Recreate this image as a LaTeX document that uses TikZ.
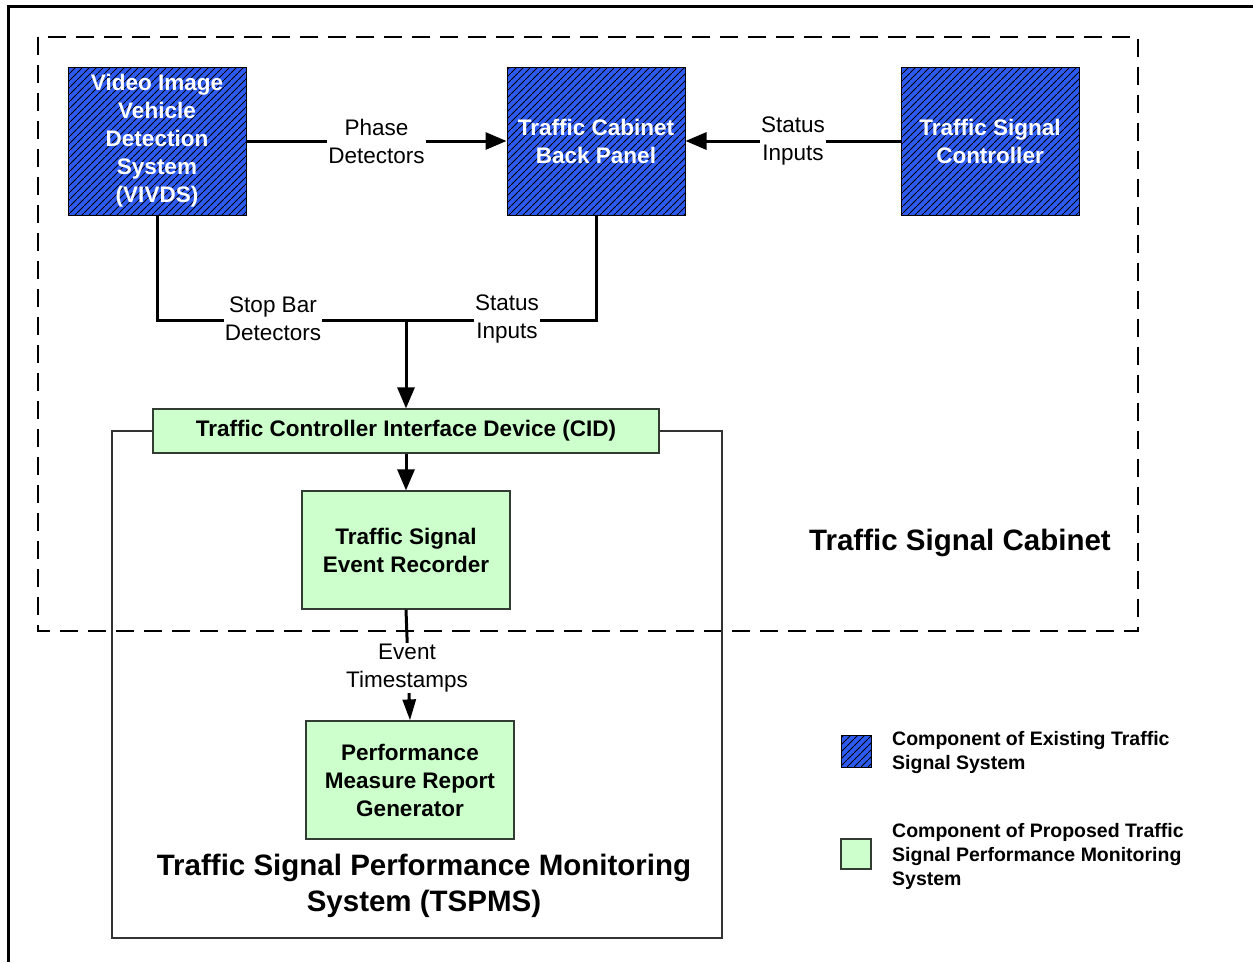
\documentclass[tikz,border=0pt]{standalone}
\usepackage{fontspec}
\setmainfont{Liberation Sans}
\usetikzlibrary{patterns.meta,arrows.meta}
\definecolor{hblue}{RGB}{45,90,240}
\definecolor{pgreen}{RGB}{204,255,204}
\definecolor{gborder}{RGB}{50,60,50}
\tikzdeclarepattern{
  name=myhatch,
  type=uncolored,
  bounding box={(0pt,0pt) and (7pt,7pt)},
  tile size={(7pt,7pt)},
  code={\draw[line width=1pt] (-1pt,-1pt) -- (8pt,8pt);}
}
\tikzset{
  existbox/.style={draw=black, line width=1pt, preaction={fill=hblue}, pattern=myhatch, pattern color=black,
    minimum width=178pt, minimum height=148pt, align=center, text=white,
    font=\bfseries\fontsize{22.5}{28}\selectfont, inner sep=2pt},
  propbox/.style={draw=gborder, line width=1.2pt, fill=pgreen, align=center,
    font=\bfseries\fontsize{22.5}{28}\selectfont, inner sep=2pt},
  conn/.style={line width=3pt, -{Triangle[length=21pt,width=17pt]}},
  connsmall/.style={line width=3pt, -{Triangle[length=21pt,width=13pt]}},
  plain/.style={line width=3pt},
  lbl/.style={fill=white, inner sep=1pt, align=center, font=\fontsize{22.5}{28}\selectfont},
  title/.style={align=center, font=\bfseries\fontsize{29.5}{36}\selectfont},
  legtext/.style={anchor=west, align=left, font=\bfseries\fontsize{19.5}{24}\selectfont, inner sep=0pt},
}
\begin{document}
\begin{tikzpicture}[x=1pt,y=-1pt]
\useasboundingbox (0,0) rectangle (1253,962);
% outer frame
\draw[line width=3pt] (8,962) -- (8,6) -- (1253,6);
% cabinet (dashed)
\draw[line width=1.3pt, dash pattern=on 18pt off 10pt] (38,37) rectangle (1138,631);
% TSPMS frame
\draw[line width=1.2pt, draw=black!80] (112,431) rectangle (722,938);
% existing components
\node[existbox] (vivds) at (157,141) {Video Image\\Vehicle\\Detection\\System\\(VIVDS)};
\node[existbox] (panel) at (596,141) {Traffic Cabinet\\Back Panel};
\node[existbox] (ctrl) at (990,141) {Traffic Signal\\Controller};
% proposed components
\node[propbox, minimum width=506pt, minimum height=44pt] (cid) at (406,431) {Traffic Controller Interface Device (CID)};
\node[propbox, minimum width=208pt, minimum height=118pt] (er) at (406,550) {Traffic Signal\\Event Recorder};
\node[propbox, minimum width=208pt, minimum height=118pt] (pmrg) at (410,780) {Performance\\Measure Report\\Generator};
% connectors
\coordinate (j) at (406,320);
\draw[conn] (vivds) -- node[lbl] {Phase\\Detectors} (panel);
\draw[conn] (ctrl) -- node[lbl] {Status\\Inputs} (panel);
\draw[plain] (vivds.south) |- (j);
\draw[plain] (panel.south) |- (j);
\draw[conn] (j) -- (cid.north);
\node[lbl] (sbd) at (273,319) {Stop Bar\\Detectors};
\node[lbl] (si2) at (507,319) {Status\\Inputs};
\draw[conn] (cid.south) -- (er.north);
\draw[connsmall] (er.south) -- (pmrg.north);
\node[lbl] (evt) at (407,668) {Event\\Timestamps};
% titles
\node[title] (cab) at (960,543) {Traffic Signal Cabinet};
\node[title] (tspms) at (424,886) {Traffic Signal Performance Monitoring\\System (TSPMS)};
% legend
\node[draw=black, line width=1pt, preaction={fill=hblue}, pattern=myhatch, pattern color=black, minimum width=30pt, minimum height=32pt, inner sep=0pt] (lg1) at (856,751) {};
\node[legtext] (lt1) at (892,752) {Component of Existing Traffic\\Signal System};
\node[draw=gborder, line width=1.2pt, fill=pgreen, minimum width=30pt, minimum height=30pt, inner sep=0pt] (lg2) at (856,854) {};
\node[legtext] (lt2) at (892,856) {Component of Proposed Traffic\\Signal Performance Monitoring\\System};
\end{tikzpicture}
\end{document}
